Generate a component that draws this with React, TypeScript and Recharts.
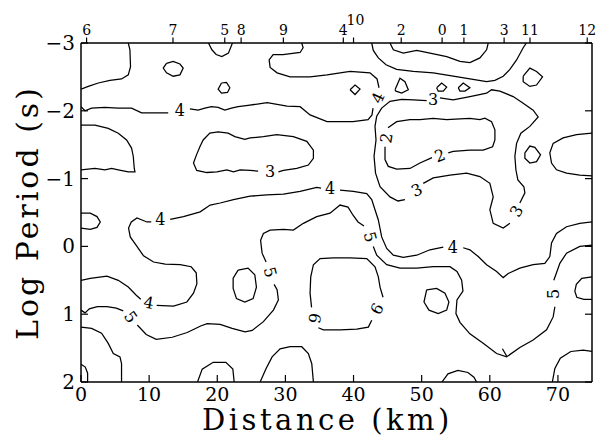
import { ComposedChart, Line, Scatter, XAxis, YAxis, Label } from 'recharts';

const SERIF = '"DejaVu Serif", "Liberation Serif", serif';

const kmTicks = [0, 10, 20, 30, 40, 50, 60, 70];
const logPeriodTicks = [-3, -2, -1, 0, 1, 2];
const stationNames = ['6', '7', '5', '8', '9', '4', '10', '2', '0', '1', '3', '11', '12'];
const stationKm = [0.82, 13.5, 21.1, 23.5, 29.7, 38.5, 40.0, 47.0, 53.0, 56.2, 62.1, 65.9, 74.3];

// contour pieces as [distance (km), log period (s)]; pieces break where a label sits
const tlLobe = [[6.94, -3], [7.18, -2.9], [7.27, -2.65], [6.94, -2.53], [5.95, -2.47], [4.25, -2.45], [2.54, -2.41], [1.07, -2.36], [0, -2.32]];
const ringNear7 = [[12.55, -2.7], [13.53, -2.73], [14.52, -2.69], [15.0, -2.63], [14.52, -2.53], [13.53, -2.51], [12.55, -2.56], [12.07, -2.63], [12.55, -2.7]];
const notchNear5 = [[18.71, -3], [19.21, -2.9], [19.84, -2.83], [20.67, -2.8], [21.64, -2.85], [22.23, -3]];
const ringNear8 = [[20.62, -2.41], [21.35, -2.42], [21.85, -2.34], [21.5, -2.27], [20.62, -2.26], [20.13, -2.32], [20.62, -2.41]];
const upper4West = [[0, -2.06], [0.59, -2.0], [1.55, -2.04], [3.52, -2.05], [5.47, -2.04], [7.42, -2.04], [8.89, -1.97], [10.85, -1.97], [12.8, -1.97]];
const upper4Mid = [[15.98, -2.03], [17.2, -2.01], [18.18, -2.04], [19.15, -2.06], [20.13, -2.05], [21.11, -2.01], [22.08, -2.04], [23.06, -2.06], [24.52, -2.08], [27.32, -2.12], [30.25, -2.07], [32.16, -2.06], [33.62, -1.94], [36.11, -1.84], [39.93, -1.84], [42.13, -1.87], [42.71, -1.94], [42.86, -2.04]];
const upper4East = [[43.74, -2.34], [43.45, -2.47], [42.42, -2.56], [39.49, -2.58], [36.11, -2.53], [33.62, -2.5], [30.69, -2.5], [28.78, -2.56], [27.76, -2.64], [27.61, -2.75], [28.2, -2.83], [29.66, -2.83], [32.16, -2.86], [32.6, -2.93], [32.4, -3]];
const eastOuter = [[42.67, -3], [42.9, -2.89], [43.64, -2.78], [44.77, -2.68], [46.33, -2.61], [48.77, -2.58], [51.7, -2.56], [54.63, -2.51], [57.08, -2.47], [59.53, -2.43], [60.75, -2.45], [61.97, -2.51], [62.95, -2.61], [63.93, -2.75], [64.9, -2.93], [65.37, -3]];
const eastInner = [[45.35, -3], [45.84, -2.9], [47.3, -2.85], [49.27, -2.89], [51.22, -2.85], [53.67, -2.8], [55.62, -2.73], [57.08, -2.71], [58.55, -2.78], [59.53, -2.9], [59.77, -3]];
const dia1 = [[39.49, -2.31], [40.22, -2.38], [40.95, -2.32], [40.22, -2.24], [39.49, -2.31]];
const dia2 = [[46.09, -2.31], [46.82, -2.48], [47.55, -2.43], [48.04, -2.31], [47.07, -2.26], [46.23, -2.29], [46.09, -2.31]];
const dia3 = [[52.2, -2.34], [52.93, -2.41], [53.67, -2.35], [53.17, -2.29], [52.43, -2.29], [52.2, -2.34]];
const dia4 = [[55.37, -2.34], [56.1, -2.41], [57.08, -2.34], [56.35, -2.29], [55.62, -2.29], [55.37, -2.34]];
const dia5 = [[64.9, -2.51], [65.88, -2.63], [66.86, -2.58], [67.74, -2.5], [66.86, -2.38], [65.88, -2.36], [64.9, -2.43], [64.9, -2.51]];
const east3West = [[50.73, -2.15], [48.77, -2.16], [47.07, -2.17], [45.35, -2.14], [44.13, -2.04], [43.4, -1.92], [43.15, -1.77], [43.3, -1.57], [43.01, -1.33], [43.23, -1.08], [43.89, -0.88], [45.35, -0.73], [46.52, -0.67], [47.55, -0.69]];
const east3South = [[50.23, -0.93], [51.7, -1.01], [54.15, -1.05], [56.6, -1.08], [58.55, -1.03], [60.01, -0.93], [60.5, -0.73], [60.01, -0.54], [60.5, -0.34], [61.97, -0.27], [62.95, -0.34]];
const east3East = [[64.41, -0.64], [65.15, -0.79], [65.0, -0.88], [64.12, -0.98], [63.83, -1.13], [63.68, -1.33], [63.93, -1.52], [64.56, -1.67], [65.88, -1.77], [67.1, -1.91], [66.36, -2.01], [64.9, -2.11], [63.43, -2.21], [61.48, -2.29], [60.26, -2.31], [59.53, -2.26], [57.08, -2.21], [54.63, -2.16], [52.68, -2.19]];
const twoNorth = [[45.06, -1.75], [46.33, -1.84], [48.28, -1.87], [49.75, -1.87], [51.7, -1.89], [53.67, -1.87], [55.62, -1.88], [57.08, -1.89], [58.55, -1.87], [59.28, -1.89], [60.26, -1.84], [60.75, -1.72], [60.75, -1.57], [60.41, -1.47], [59.03, -1.42], [57.08, -1.42], [54.63, -1.4], [53.9, -1.38]];
const twoSouth = [[51.51, -1.31], [49.75, -1.23], [48.28, -1.15], [46.33, -1.14], [45.1, -1.18], [44.62, -1.28], [44.62, -1.47]];
const eastPocket = [[75, -1.67], [72.73, -1.65], [70.76, -1.6], [69.3, -1.52], [68.81, -1.38], [69.06, -1.23], [69.79, -1.13], [71.26, -1.08], [73.21, -1.05], [75, -1.04]];
const ringNear11 = [[65.15, -1.38], [65.88, -1.48], [66.61, -1.46], [67.45, -1.35], [66.86, -1.25], [65.88, -1.23], [65.15, -1.3], [65.15, -1.38]];
const westPocket = [[0, -1.79], [2.05, -1.79], [4.0, -1.74], [5.47, -1.67], [6.69, -1.57], [7.42, -1.45], [7.67, -1.33], [7.82, -1.15], [7.92, -1.1], [6.94, -1.1], [5.47, -1.13], [4.49, -1.15], [3.52, -1.13], [2.05, -1.15], [0, -1.13]];
const mid3 = [[28.97, -1.1], [29.71, -1.12], [31.67, -1.15], [33.37, -1.2], [34.11, -1.3], [34.11, -1.42], [33.14, -1.55], [31.17, -1.62], [28.74, -1.65], [26.77, -1.62], [24.82, -1.6], [24.05, -1.58], [22.58, -1.62], [21.6, -1.67], [20.13, -1.69], [18.91, -1.67], [17.93, -1.57], [17.45, -1.47], [16.95, -1.35], [16.51, -1.23], [16.98, -1.12], [18.48, -1.09], [19.94, -1.1], [21.41, -1.13], [22.38, -1.1], [23.36, -1.13], [24.82, -1.12], [26.0, -1.11]];
const westRing = [[0, -0.49], [1.36, -0.49], [2.35, -0.44], [2.83, -0.36], [2.35, -0.28], [1.36, -0.25], [0, -0.27]];
const mid4A = [[0, 0.5], [1.36, 0.47], [3.81, 0.44], [5.47, 0.5], [6.94, 0.6], [8.11, 0.72], [8.77, 0.78]];
const mid4B = [[11.11, 0.87], [13.58, 0.88], [15.54, 0.82], [16.51, 0.69], [17.01, 0.55], [16.91, 0.39], [16.17, 0.3], [14.56, 0.27], [12.36, 0.26], [10.65, 0.23], [9.18, 0.14], [8.21, 0.0], [7.23, -0.14], [6.98, -0.27], [7.38, -0.36], [8.21, -0.42], [9.68, -0.36], [10.31, -0.36]];
const mid4C = [[13.09, -0.4], [15.04, -0.44], [17.49, -0.51], [18.96, -0.61], [20.43, -0.64], [22.38, -0.69], [24.82, -0.74], [27.27, -0.76], [29.71, -0.77], [32.16, -0.81], [34.6, -0.87], [35.23, -0.86]];
const mid4D = [[38.02, -0.83], [39.97, -0.81], [41.94, -0.78], [42.67, -0.69], [43.15, -0.54], [43.64, -0.39], [44.13, -0.14], [44.87, 0.03], [45.84, 0.13], [47.3, 0.16], [49.27, 0.13], [51.22, 0.05], [53.17, 0.01]];
const mid4E = [[56.1, 0.02], [57.08, 0.05], [58.3, 0.15], [59.53, 0.27], [61.0, 0.37], [61.97, 0.46], [62.7, 0.4], [64.41, 0.32], [66.36, 0.27], [68.08, 0.25], [68.81, 0.15], [69.06, -0.05], [69.79, -0.19], [71.26, -0.29], [73.21, -0.34], [75, -0.36]];
const fiveA = [[0, 0.94], [0.59, 0.98], [1.22, 0.92], [2.39, 0.89], [3.81, 0.89], [5.18, 0.91], [6.2, 0.95]];
const fiveB = [[8.26, 1.16], [9.57, 1.3], [11.04, 1.37], [13.39, 1.34], [15.59, 1.27], [17.64, 1.17], [18.52, 1.14], [20.43, 1.15], [22.18, 1.21], [24.09, 1.26], [25.12, 1.24], [26.77, 1.11], [28.24, 0.94], [28.97, 0.79], [28.78, 0.64], [28.34, 0.56]];
const fiveC = [[27.17, 0.23], [26.58, 0.1], [26.36, -0.09], [26.77, -0.19], [27.76, -0.24], [29.71, -0.25], [31.17, -0.24], [32.64, -0.34], [34.6, -0.44], [36.55, -0.49], [38.02, -0.61], [39.19, -0.58], [39.93, -0.46], [40.66, -0.36], [41.54, -0.3]];
const fiveD = [[42.9, 0.0], [43.4, 0.13], [44.87, 0.27], [46.82, 0.32], [49.27, 0.32], [51.7, 0.3], [54.15, 0.3], [55.18, 0.37], [55.87, 0.5], [56.06, 0.66], [55.18, 0.79], [55.03, 0.99], [55.62, 1.12], [57.08, 1.29], [59.03, 1.43], [61.0, 1.58], [62.46, 1.63], [64.41, 1.49], [66.36, 1.38], [68.33, 1.23], [69.3, 1.04], [69.55, 0.89]];
const fiveE = [[69.4, 0.5], [70.28, 0.25], [71.26, 0.1], [73.21, 0.0], [75, -0.02]];
const fiveHachure = [[62.49, 1.62], [61.85, 1.51]];
const sixNorth = [[33.84, 0.9], [33.62, 0.69], [33.72, 0.45], [34.11, 0.27], [35.09, 0.18], [37.04, 0.17], [39.49, 0.17], [41.94, 0.18], [43.15, 0.3], [43.64, 0.45], [43.89, 0.6], [44.33, 0.75]];
const sixSouth = [[42.67, 1.09], [42.17, 1.19], [40.47, 1.22], [38.02, 1.23], [35.57, 1.23], [34.84, 1.2]];
const humpMid = [[26.29, 2], [27.17, 1.8], [28.05, 1.63], [29.22, 1.51], [30.69, 1.48], [32.4, 1.48], [33.37, 1.58], [33.87, 1.73], [34.11, 2]];
const ringMid = [[23.06, 0.35], [24.52, 0.32], [25.51, 0.42], [25.75, 0.6], [25.26, 0.77], [24.05, 0.82], [22.82, 0.77], [22.33, 0.62], [22.33, 0.47], [23.06, 0.35]];
const westFloor = [[0, 1.19], [1.55, 1.21], [3.02, 1.28], [4.0, 1.43], [4.74, 1.58], [5.72, 1.63], [5.95, 1.73], [5.95, 2]];
const cornerSW = [[0, 1.74], [0.63, 1.78], [0.97, 1.87], [0.97, 2]];
const bumpNear20 = [[17.1, 2], [17.79, 1.81], [19.4, 1.71], [21.26, 1.71], [22.29, 1.81], [22.48, 2]];
const ringNear0 = [[50.73, 0.64], [52.2, 0.62], [53.42, 0.69], [54.0, 0.82], [53.67, 0.94], [52.43, 0.99], [51.07, 0.94], [50.34, 0.82], [50.73, 0.64]];
const humpNear0 = [[52.98, 2], [53.86, 1.88], [55.32, 1.83], [56.79, 1.86], [57.67, 1.93], [58.06, 2]];
const cornerSE = [[69.18, 2], [69.55, 1.8], [70.35, 1.65], [71.89, 1.55], [73.7, 1.53], [75, 1.55]];
const eastNook = [[75, 0.45], [73.5, 0.47], [72.7, 0.56], [72.48, 0.66], [72.77, 0.75], [73.8, 0.78], [75, 0.78]];

const contourPieces = [
  tlLobe, ringNear7, notchNear5, ringNear8, upper4West, upper4Mid, upper4East,
  eastOuter, eastInner, dia1, dia2, dia3, dia4, dia5,
  east3West, east3South, east3East, twoNorth, twoSouth, eastPocket, ringNear11,
  westPocket, mid3, westRing, mid4A, mid4B, mid4C, mid4D, mid4E,
  fiveA, fiveB, fiveC, fiveD, fiveE, fiveHachure, sixNorth, sixSouth,
  humpMid, ringMid, westFloor, cornerSW, bumpNear20, ringNear0, humpNear0, cornerSE, eastNook,
];

// contour value labels
const labelText = ['4', '4', '3', '3', '3', '2', '2', '3', '4', '4', '4', '4', '5', '5', '5', '5', '6', '6'];
const labelKm = [14.52, 43.59, 51.66, 49.27, 63.93, 44.84, 52.68, 27.76, 9.94, 11.63, 36.55, 54.59, 7.3, 27.76, 42.42, 69.33, 43.45, 34.28];
const labelLogP = [-2.01, -2.19, -2.16, -0.83, -0.52, -1.6, -1.34, -1.1, 0.83, -0.39, -0.85, 0.01, 1.04, 0.38, -0.14, 0.7, 0.92, 1.06];
const labelAngle = [0, -65, 0, -25, -60, -80, -20, 0, 10, 0, 0, 0, 55, 75, 75, -90, -60, 100];

const pts = (c: number[][]) => c.map(([x, y]) => ({ x, y }));
const labels = labelText.map((text, i) => ({ x: labelKm[i], y: labelLogP[i], text, angle: labelAngle[i] }));

const fmtLog = (v: number) => (v < 0 ? `\u2212${Math.abs(v)}` : `${v}`);

function BottomTick({ x, y, payload }: any) {
  return (
    <g>
      <line x1={x} y1={y} x2={x} y2={y - 7} stroke="#000" strokeWidth={1.2} />
      <text x={x} y={y + 19} textAnchor="middle" fontFamily={SERIF} fontSize={19} fill="#000">
        {payload.value}
      </text>
    </g>
  );
}

function TopTick({ x, y, payload }: any) {
  const name = stationNames[stationKm.indexOf(payload.value)];
  return (
    <g>
      <line x1={x} y1={y} x2={x} y2={y - 5.5} stroke="#000" strokeWidth={1.2} />
      <text x={x + (name === '10' ? 2 : 0)} y={name === '10' ? y - 18 : y - 8} textAnchor="middle" fontFamily={SERIF} fontSize={14} fill="#000">
        {name}
      </text>
    </g>
  );
}

function LeftTick({ x, y, payload }: any) {
  return (
    <g>
      <line x1={x} y1={y} x2={x + 7} y2={y} stroke="#000" strokeWidth={1.2} />
      <text x={x - 6} y={y + 7} textAnchor="end" fontFamily={SERIF} fontSize={20} fill="#000">
        {fmtLog(payload.value)}
      </text>
    </g>
  );
}

function RightTick({ x, y }: any) {
  return <line x1={x} y1={y} x2={x - 7} y2={y} stroke="#000" strokeWidth={1.2} />;
}

function ContourLabel({ cx, cy, payload }: any) {
  return (
    <text
      x={cx}
      y={cy}
      transform={`rotate(${payload.angle} ${cx} ${cy})`}
      textAnchor="middle"
      dominantBaseline="central"
      fontFamily={SERIF}
      fontSize={16}
      fill="#000"
    >
      {payload.text}
    </text>
  );
}

const xTitle = ({ viewBox }: any) => (
  <text x={viewBox.x + viewBox.width / 2 - 9} y={viewBox.y + 48} textAnchor="middle" fontFamily={SERIF} fontSize={29} letterSpacing={3.5} fill="#000">
    Distance (km)
  </text>
);

const yTitle = ({ viewBox }: any) => (
  <text
    transform={`translate(${viewBox.x + viewBox.width - 43}, ${viewBox.y + viewBox.height / 2}) rotate(-90)`}
    textAnchor="middle"
    fontFamily={SERIF}
    fontSize={30}
    letterSpacing={3}
    fill="#000"
  >
    Log Period (s)
  </text>
);

export default function App() {
  const axisLine = { stroke: '#000', strokeWidth: 1.5 };
  return (
    <div style={{ position: 'absolute', left: 0, top: 0, width: 599, height: 438, background: '#fff' }}>
      <ComposedChart width={599} height={438} margin={{ top: 42, right: 6, bottom: 55, left: 80 }}>
        <XAxis
          xAxisId="b"
          type="number"
          dataKey="x"
          domain={[0, 75]}
          ticks={kmTicks}
          interval={0}
          allowDataOverflow
          height={1}
          tickSize={0}
          tickMargin={0}
          tickLine={false}
          axisLine={axisLine}
          tick={(p: any) => <BottomTick {...p} />}
        >
          <Label content={xTitle} />
        </XAxis>
        <XAxis
          xAxisId="t"
          orientation="top"
          type="number"
          dataKey="x"
          domain={[0, 75]}
          ticks={stationKm}
          interval={0}
          allowDataOverflow
          height={1}
          tickSize={0}
          tickMargin={0}
          tickLine={false}
          axisLine={axisLine}
          tick={(p: any) => <TopTick {...p} />}
        />
        <YAxis
          yAxisId="l"
          type="number"
          dataKey="y"
          domain={[-3, 2]}
          reversed
          ticks={logPeriodTicks}
          interval={0}
          allowDataOverflow
          width={1}
          tickSize={0}
          tickMargin={0}
          tickLine={false}
          axisLine={axisLine}
          tick={(p: any) => <LeftTick {...p} />}
        >
          <Label content={yTitle} />
        </YAxis>
        <YAxis
          yAxisId="r"
          orientation="right"
          type="number"
          dataKey="y"
          domain={[-3, 2]}
          reversed
          ticks={logPeriodTicks}
          interval={0}
          allowDataOverflow
          width={1}
          tickSize={0}
          tickMargin={0}
          tickLine={false}
          axisLine={axisLine}
          tick={(p: any) => <RightTick {...p} />}
        />
        {contourPieces.map((c, i) => (
          <Line
            key={i}
            xAxisId="b"
            yAxisId="l"
            data={pts(c)}
            dataKey="y"
            type="linear"
            stroke="#000"
            strokeWidth={1.25}
            dot={false}
            activeDot={false}
            isAnimationActive={false}
          />
        ))}
        <Scatter
          xAxisId="t"
          yAxisId="r"
          data={labels}
          dataKey="y"
          shape={(p: any) => <ContourLabel {...p} />}
          isAnimationActive={false}
        />
      </ComposedChart>
    </div>
  );
}
